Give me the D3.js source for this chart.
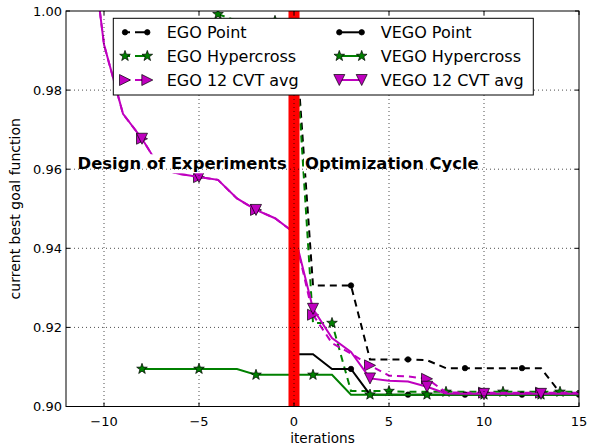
<!DOCTYPE html>
<html lang="en">
<head>
<meta charset="UTF-8">
<title>current best goal function</title>
<script src="https://d3js.org/d3.v7.min.js"></script>
<style>
    body { margin: 0; background: white; }
    text { font-family: "DejaVu Sans", sans-serif; }
</style>
</head>
<body>
<div id="chart"></div>
<script>
    // x ticks and y ticks
    const xTicks = [-10, -5, 0, 5, 10, 15];
    const yTicks = [0.90, 0.92, 0.94, 0.96, 0.98, 1.00];

    // shared design of experiments for the two CVT runs (iterations -11..0)
    const cvtDoe = [1.0300, 0.9915, 0.9740, 0.9677, 0.9600, 0.9588, 0.9580, 0.9573, 0.9526, 0.9497, 0.9476, 0.9440];
    // optimization part (iterations 1..15)
    const egoCvtOpt = [0.9232, 0.9160, 0.9134, 0.9104, 0.9078, 0.9076, 0.9070, 0.9036, 0.9035, 0.9035, 0.9035, 0.9035, 0.9035, 0.9035, 0.9035];
    const vegoCvtOpt = [0.9247, 0.9173, 0.9138, 0.9071, 0.9065, 0.9063, 0.9050, 0.9033, 0.9032, 0.9032, 0.9032, 0.9032, 0.9032, 0.9032, 0.9032];

    // point start (iterations 0..15)
    const egoPoint = [0.9990, 0.9306, 0.9306, 0.9306, 0.9119, 0.9119, 0.9119, 0.9117, 0.9097, 0.9097, 0.9097, 0.9097, 0.9097, 0.9097, 0.9035, 0.9034];
    const vegoPoint = [0.9132, 0.9132, 0.9095, 0.9095, 0.9030, 0.9030, 0.9030, 0.9030, 0.9030, 0.9030, 0.9030, 0.9030, 0.9030, 0.9030, 0.9030, 0.9030];

    // hypercross start (EGO from -4, VEGO from -8)
    const egoHyper = [0.9992, 0.9975, 0.9975, 0.9975, 0.9975, 0.9211, 0.9211, 0.9039, 0.9039, 0.9039, 0.9037, 0.9037, 0.9037, 0.9037, 0.9037, 0.9037, 0.9037, 0.9037, 0.9037, 0.9037];
    const vegoHyper = [0.9095, 0.9095, 0.9095, 0.9095, 0.9095, 0.9095, 0.9080, 0.9080, 0.9080, 0.9080, 0.9080, 0.9030, 0.9030, 0.9030, 0.9030, 0.9030, 0.9030, 0.9030, 0.9030, 0.9030, 0.9030, 0.9030, 0.9030, 0.9030];

    const series = [
        {name: "EGO Point", start: 0, values: egoPoint, color: "#000000", dash: "7,5", marker: "circle"},
        {name: "EGO Hypercross", start: -4, values: egoHyper, color: "#008000", dash: "7,5", marker: "star"},
        {name: "EGO 12 CVT avg", start: -11, values: cvtDoe.concat(egoCvtOpt), color: "#bf00bf", dash: "7,5", marker: "right"},
        {name: "VEGO Point", start: 0, values: vegoPoint, color: "#000000", dash: null, marker: "circle"},
        {name: "VEGO Hypercross", start: -8, values: vegoHyper, color: "#008000", dash: null, marker: "star"},
        {name: "VEGO 12 CVT avg", start: -11, values: cvtDoe.concat(vegoCvtOpt), color: "#bf00bf", dash: null, marker: "down"}
    ];

    const width = 595, height = 444;
    const pLeft = 66, pRight = 579, pTop = 11, pBottom = 406.5;

    const x = d3.scaleLinear().domain([-12, 15]).range([pLeft, pRight]);
    const y = d3.scaleLinear().domain([0.90, 1.00]).range([pBottom, pTop]);

    const svg = d3.select("#chart").append("svg")
        .attr("width", width)
        .attr("height", height);

    svg.append("defs").append("clipPath").attr("id", "plot-clip")
        .append("rect")
        .attr("x", pLeft).attr("y", pTop)
        .attr("width", pRight - pLeft).attr("height", pBottom - pTop);

    // marker paths
    function starPath(r) {
        const pts = [];
        for (let i = 0; i < 10; i++) {
            const rr = i % 2 === 0 ? r : r * 0.4;
            const a = -Math.PI / 2 + i * Math.PI / 5;
            pts.push([rr * Math.cos(a), rr * Math.sin(a)]);
        }
        return "M" + pts.map(p => p.join(",")).join("L") + "Z";
    }
    const markerPath = {
        circle: "M2.7,0A2.7,2.7,0,1,1,-2.7,0A2.7,2.7,0,1,1,2.7,0Z",
        star: starPath(5.6),
        right: "M-5.5,-5.5L5.5,0L-5.5,5.5Z",
        down: "M-5.5,-5.5L5.5,-5.5L0,5.5Z"
    };

    function drawMarker(g, type, color, px, py) {
        g.append("path")
            .attr("d", markerPath[type])
            .attr("transform", `translate(${px},${py})`)
            .attr("fill", color)
            .attr("stroke", "#000")
            .attr("stroke-width", type === "circle" ? 0.8 : 0.7);
    }

    const plot = svg.append("g").attr("clip-path", "url(#plot-clip)");

    const line = d3.line()
        .x(d => x(d[0]))
        .y(d => y(d[1]));

    series.forEach(s => {
        const pts = s.values.map((v, i) => [s.start + i, v]);
        plot.append("path")
            .datum(pts)
            .attr("d", line)
            .attr("fill", "none")
            .attr("stroke", s.color)
            .attr("stroke-width", 2)
            .attr("stroke-dasharray", s.dash);
        pts.forEach((p, i) => {
            if (i % 3 === 0) drawMarker(plot, s.marker, s.color, x(p[0]), y(p[1]));
        });
    });

    // text boxes for the two phases
    const labels = svg.append("g");
    function phaseLabel(txt, px, anchor) {
        const t = labels.append("text")
            .attr("x", px)
            .attr("y", 169.3)
            .attr("text-anchor", anchor)
            .attr("font-size", 16.4)
            .attr("font-weight", "bold")
            .text(txt);
        const bb = t.node().getBBox();
        labels.insert("rect", "text")
            .attr("x", bb.x - 1).attr("y", bb.y)
            .attr("width", bb.width + 2).attr("height", bb.height)
            .attr("fill", "white");
    }
    phaseLabel("Design of Experiments", 286.7, "end");
    phaseLabel("Optimization Cycle", 305, "start");

    // red separator at iteration 0
    svg.append("rect")
        .attr("x", x(-0.29)).attr("y", pTop)
        .attr("width", x(0.29) - x(-0.29)).attr("height", pBottom - pTop)
        .attr("fill", "#ff0000");

    // dotted grid
    const grid = svg.append("g")
        .attr("stroke", "#000")
        .attr("stroke-width", 0.7)
        .attr("stroke-dasharray", "1,3");
    xTicks.filter(t => t > -12 && t < 15).forEach(t => {
        grid.append("line").attr("x1", x(t)).attr("x2", x(t)).attr("y1", pTop).attr("y2", pBottom);
    });
    yTicks.filter(t => t > 0.90 && t < 1.00).forEach(t => {
        grid.append("line").attr("x1", pLeft).attr("x2", pRight).attr("y1", y(t)).attr("y2", y(t));
    });

    // inward ticks on all sides
    const ticks = svg.append("g").attr("stroke", "#000").attr("stroke-width", 1);
    xTicks.forEach(t => {
        ticks.append("line").attr("x1", x(t)).attr("x2", x(t)).attr("y1", pBottom).attr("y2", pBottom - 4);
        ticks.append("line").attr("x1", x(t)).attr("x2", x(t)).attr("y1", pTop).attr("y2", pTop + 4);
    });
    yTicks.forEach(t => {
        ticks.append("line").attr("x1", pLeft).attr("x2", pLeft + 4).attr("y1", y(t)).attr("y2", y(t));
        ticks.append("line").attr("x1", pRight).attr("x2", pRight - 4).attr("y1", y(t)).attr("y2", y(t));
    });

    // frame
    svg.append("rect")
        .attr("x", pLeft).attr("y", pTop)
        .attr("width", pRight - pLeft).attr("height", pBottom - pTop)
        .attr("fill", "none")
        .attr("stroke", "#000")
        .attr("stroke-width", 1);

    // tick labels
    svg.append("g").selectAll("text")
        .data(xTicks)
        .enter().append("text")
        .attr("x", d => x(d))
        .attr("y", 425.5)
        .attr("text-anchor", "middle")
        .attr("font-size", 13)
        .text(d => d < 0 ? "\u2212" + Math.abs(d) : d);

    svg.append("g").selectAll("text")
        .data(yTicks)
        .enter().append("text")
        .attr("x", 62)
        .attr("y", d => y(d))
        .attr("dy", "0.36em")
        .attr("text-anchor", "end")
        .attr("font-size", 13)
        .text(d => d.toFixed(2));

    // axis labels
    svg.append("text")
        .attr("x", (pLeft + pRight) / 2)
        .attr("y", 442.5)
        .attr("text-anchor", "middle")
        .attr("font-size", 13.6)
        .text("iterations");

    svg.append("text")
        .attr("transform", `translate(20,${(pTop + pBottom) / 2}) rotate(-90)`)
        .attr("text-anchor", "middle")
        .attr("font-size", 14)
        .text("current best goal function");

    // legend
    const legend = svg.append("g");
    legend.append("rect")
        .attr("x", 113.3).attr("y", 18.3)
        .attr("width", 533.3 - 113.3).attr("height", 95 - 18.3)
        .attr("fill", "white")
        .attr("stroke", "#000")
        .attr("stroke-width", 1);

    const rowY = [32.3, 56, 80];
    const colX = [{m1: 125, m2: 147.3, tx: 166.7}, {m1: 339.3, m2: 361.7, tx: 380.7}];
    series.forEach((s, i) => {
        const col = colX[Math.floor(i / 3)];
        const ry = rowY[i % 3];
        legend.append("line")
            .attr("x1", col.m1).attr("x2", col.m2)
            .attr("y1", ry).attr("y2", ry)
            .attr("stroke", s.color)
            .attr("stroke-width", 2)
            .attr("stroke-dasharray", s.dash ? "5,5,12" : null);
        drawMarker(legend, s.marker, s.color, col.m1, ry);
        drawMarker(legend, s.marker, s.color, col.m2, ry);
        legend.append("text")
            .attr("x", col.tx)
            .attr("y", ry)
            .attr("dy", "0.36em")
            .attr("font-size", 16)
            .text(s.name);
    });
</script>
</body>
</html>
